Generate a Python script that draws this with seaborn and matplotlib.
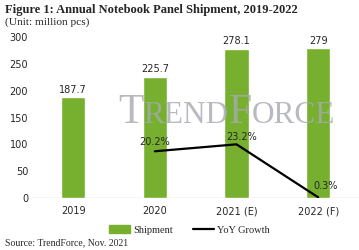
import matplotlib.pyplot as plt
import pandas as pd
import seaborn as sns

sns.set_style('white')
plt.rcParams['font.family'] = ['DejaVu Sans']

# data
years = ['2019', '2020', '2021 (E)', '2022 (F)']
shipment = [187.7, 225.7, 278.1, 279]
yoy_years = ['2020', '2021 (E)', '2022 (F)']
yoy = [20.2, 23.2, 0.3]
yoy_labels = ['20.2%', '23.2%', '0.3%']

green = '#76b02e'

df = pd.DataFrame({'year': years, 'shipment': shipment})
df_yoy = pd.DataFrame({'year': yoy_years, 'yoy': yoy})

fig = plt.figure(figsize=(3.59, 2.5), dpi=100)
ax = fig.add_axes([0.09, 0.208, 0.91, 0.644])

# watermark, pieces placed one after another
renderer = fig.canvas.get_renderer()
x0 = 118 / 359
for txt, size in [('T', 30), ('REND', 22.5), ('F', 30), ('ORCE', 22.5)]:
    t = fig.text(x0, 0.508, txt, fontsize=size, family='Liberation Serif',
                 color='#a6a9b1', alpha=0.8, va='baseline')
    bb = t.get_window_extent(renderer)
    x0 = bb.x1 / fig.bbox.width

sns.barplot(data=df, x='year', y='shipment', color=green, width=0.3,
            saturation=1, ax=ax, zorder=2)
ax.set_ylim(0, 300)
ax.set_yticks([0, 50, 100, 150, 200, 250, 300])
ax.set_xlabel('')
ax.set_ylabel('')
ax.tick_params(axis='both', labelsize=7, length=0, pad=3)
ax.tick_params(axis='x', pad=6)
for s in ax.spines.values():
    s.set_visible(False)
ax.axhline(0, color='#d0d0d0', lw=1, zorder=1)
for i, v in enumerate(shipment):
    ax.text(i, v + 5, f'{v:g}', ha='center', va='bottom', fontsize=7)

ax2 = ax.twinx()
sns.lineplot(data=df_yoy, x='year', y='yoy', color='black', lw=1.6, ax=ax2,
             legend=False)
ax.set_xlim(-0.5, 3.5)
ax2.set_ylim(0, 69.6)
ax2.set_axis_off()
offs = [(0.0, 3.9), (0.06, 3.0), (0.09, 4.7)]
for i, (v, t) in enumerate(zip(yoy, yoy_labels)):
    ax2.text(i + 1 + offs[i][0], v + offs[i][1], t, ha='center', va='center', fontsize=7)

handles = [plt.Rectangle((0, 0), 1, 1, color=green),
           plt.Line2D([], [], color='black', lw=1.6)]
fig.legend(handles, ['Shipment', 'YoY Growth'], loc='center', bbox_to_anchor=(0.528, 0.08), ncol=2,
           frameon=False, prop={'family': 'Liberation Serif', 'size': 7.5},
           handlelength=2.0, columnspacing=1.9, handletextpad=0.3)

fig.text(0.015, 0.985, 'Figure 1: Annual Notebook Panel Shipment, 2019-2022',
         fontsize=9, fontweight='bold', family='Liberation Serif', va='top')
fig.text(0.015, 0.93, '(Unit: million pcs)', fontsize=8.2, family='Liberation Serif', va='top')
fig.text(0.015, 0.03, 'Source: TrendForce, Nov. 2021', fontsize=7, family='Liberation Serif', va='center')

fig.savefig('out.png', dpi=100)
